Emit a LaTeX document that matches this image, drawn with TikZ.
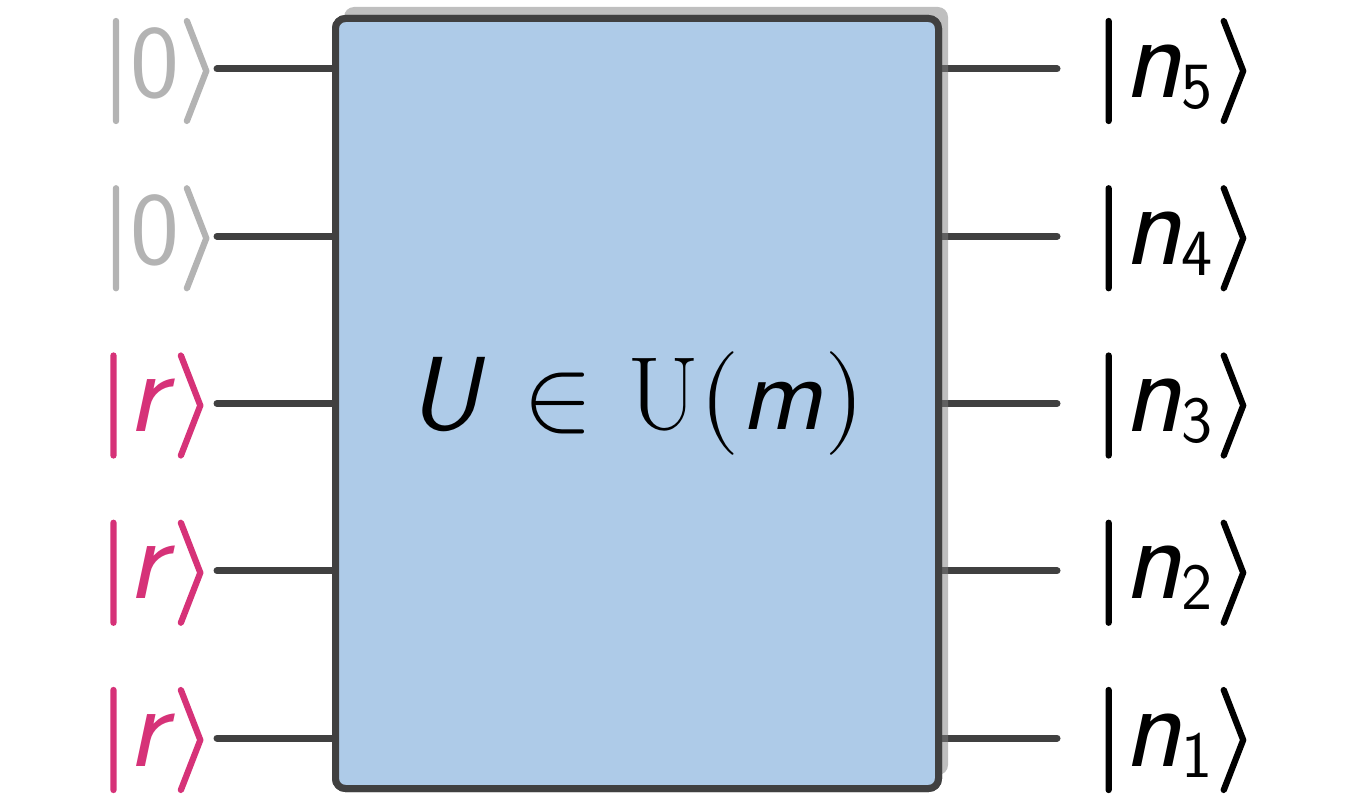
\documentclass[tikz,border=0pt]{standalone}
\usepackage{fontspec}
\usepackage{unicode-math}
\setmathfont{Latin Modern Math}
\newfontfamily\ketfont{Latin Modern Math}[FakeBold=2]
\definecolor{boxfill}{HTML}{AECBE8}
\definecolor{edge}{HTML}{404040}
\definecolor{ketgray}{HTML}{B3B3B3}
\definecolor{ketpink}{HTML}{D63278}
\newcommand{\kbar}{{\ketfont|}}
\newcommand{\kang}{{\ketfont⟩}}
\newcommand{\klow}[1]{{\sffamily\itshape\fontsize{120}{130}\selectfont #1}}
\newcommand{\ksub}[1]{\lower11pt\hbox{\sffamily\fontsize{66}{70}\selectfont #1}}
\tikzset{
  wire/.style={edge, line width=7pt, line cap=round},
  gatebox/.style={draw=edge, fill=boxfill, line width=7pt, rounded corners=10pt,
    minimum width=603pt, minimum height=770pt, inner sep=0pt},
  shadowbox/.style={fill=black!50, opacity=0.5, rounded corners=10pt},
  lbl/.style={inner sep=0pt, font=\fontsize{104}{120}\selectfont},
}
\begin{document}
\begin{tikzpicture}[x=1pt,y=-1pt]
\useasboundingbox (0,0) rectangle (1360,800);
% wires
\foreach \i/\y in {1/69,2/236.25,3/403.5,4/570.75,5/738}{
  \coordinate (l\i) at (217,\y);
  \coordinate (r\i) at (1057,\y);
}
\node[gatebox] (U) at (637,403.5) {};
\foreach \i in {1,...,5}{
  \draw[wire] (l\i) -- (l\i -| U.west);
  \draw[wire] (r\i -| U.east) -- (r\i);
}
\fill[shadowbox] (344,7) rectangle (948,775);
\node[gatebox] (U) at (637,403.5) {};
\node[lbl] (gate) at (637,403.5) {$\mathsfit{U} \mskip1mu\in\mskip1mu \mathrm{U}(\mathsfit{m})$};
% left kets
\node[lbl, text=ketgray, anchor=base east] (k1) at (220,97) {\kbar{\sffamily 0}\kang};
\node[lbl, text=ketgray, anchor=base east] (k2) at (220,264.25) {\kbar{\sffamily 0}\kang};
\node[lbl, text=ketpink, anchor=base east] (k3) at (214,431.5) {\kbar\klow{r}\kern7pt\kang};
\node[lbl, text=ketpink, anchor=base east] (k4) at (214,598.75) {\kbar\klow{r}\kern7pt\kang};
\node[lbl, text=ketpink, anchor=base east] (k5) at (214,766) {\kbar\klow{r}\kern7pt\kang};
% right kets
\node[lbl, anchor=base west] (o5) at (1094,97) {\kbar\klow{n}\ksub{5}\kern4pt\kang};
\node[lbl, anchor=base west] (o4) at (1094,264.25) {\kbar\klow{n}\ksub{4}\kern4pt\kang};
\node[lbl, anchor=base west] (o3) at (1094,431.5) {\kbar\klow{n}\ksub{3}\kern4pt\kang};
\node[lbl, anchor=base west] (o2) at (1094,598.75) {\kbar\klow{n}\ksub{2}\kern4pt\kang};
\node[lbl, anchor=base west] (o1) at (1094,766) {\kbar\klow{n}\ksub{1}\kern4pt\kang};
\end{tikzpicture}
\end{document}
